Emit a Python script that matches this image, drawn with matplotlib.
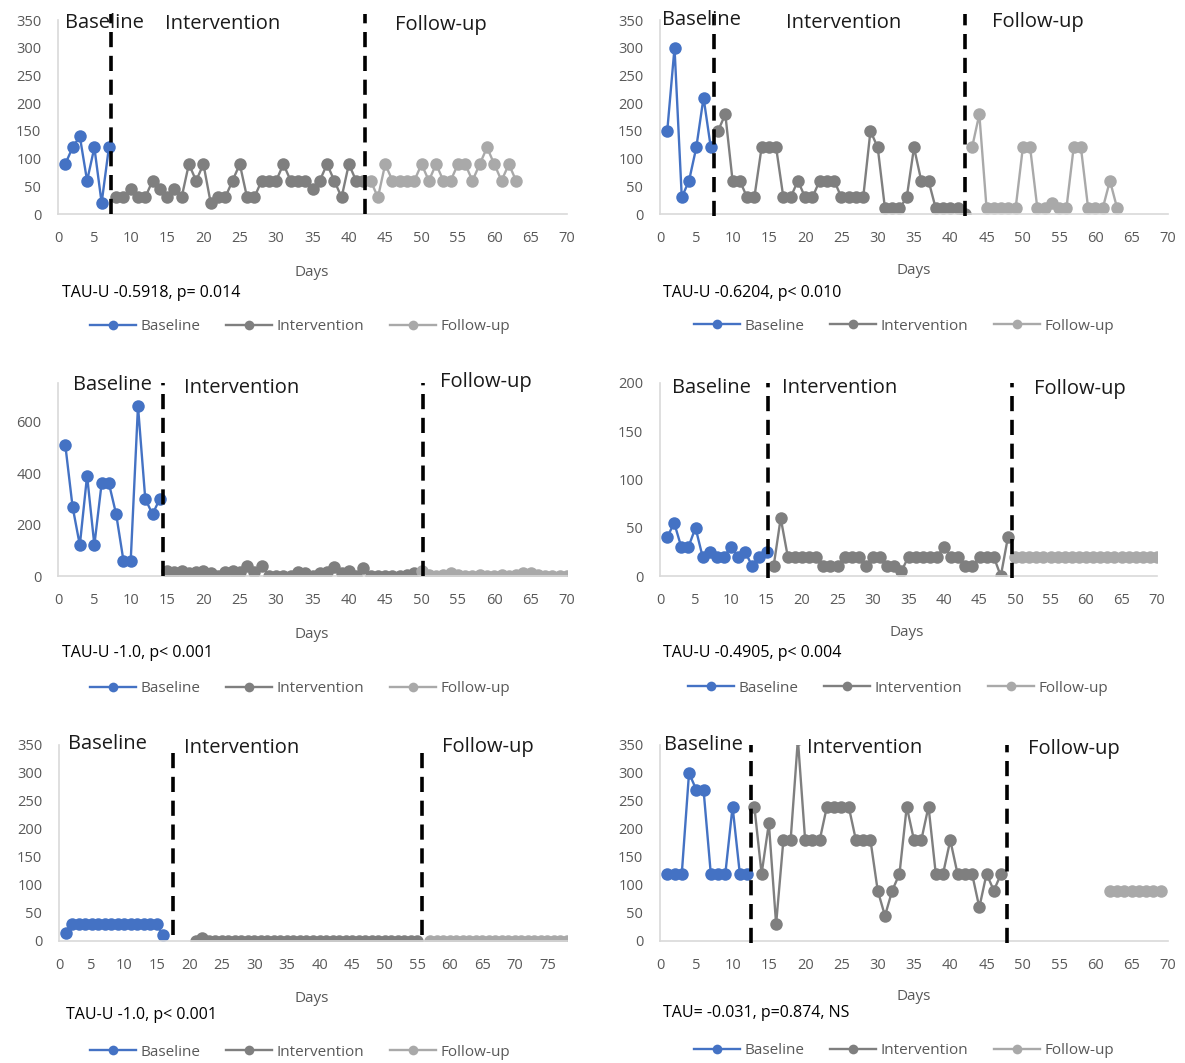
import numpy as np
import matplotlib.pyplot as plt
from matplotlib.lines import Line2D

plt.rcParams['font.family'] = ['Open Sans', 'DejaVu Sans']

W, H = 1185, 1063

# ---- colours ----
BLUE = '#4472C4'
DARK = '#7F7F7F'
LIGHT = '#A9A9A9'
TICK = '#595959'

# ---- panel 1 ----
p1_baseline = [90, 120, 140, 60, 120, 20, 120]
p1_intervention = [30, 30, 45, 30, 30, 60, 45, 30, 45, 30, 90, 60, 90, 20, 30,
                   30, 60, 90, 30, 30, 60, 60, 60, 90, 60, 60, 60, 45, 60, 90,
                   60, 30, 90, 60, 60]
p1_followup = [60, 30, 90, 60, 60, 60, 60, 90, 60, 90, 60, 60, 90, 90, 60, 90,
               120, 90, 60, 90, 60]
p1_starts = [1, 8, 43]
p1_phase_lines = [7.3, 42.2]
p1_tau = 'TAU-U -0.5918, p= 0.014'

# ---- panel 2 ----
p2_baseline = [150, 300, 30, 60, 120, 210, 120]
p2_intervention = [150, 180, 60, 60, 30, 30, 120, 120, 120, 30, 30, 60, 30, 30,
                   60, 60, 60, 30, 30, 30, 30, 150, 120, 10, 10, 10, 30, 120,
                   60, 60, 10, 10, 10, 10, 0]
p2_followup = [120, 180, 10, 10, 10, 10, 10, 120, 120, 10, 10, 20, 10, 10, 120,
               120, 10, 10, 10, 60, 10]
p2_starts = [1, 8, 43]
p2_phase_lines = [7.4, 42.0]
p2_tau = 'TAU-U -0.6204, p< 0.010'

# ---- panel 3 ----
p3_baseline = [510, 270, 120, 390, 120, 360, 360, 240, 60, 60, 660, 300, 240, 300]
p3_intervention = [20, 15, 20, 10, 15, 20, 10, 0, 15, 20, 15, 40, 15, 40, 0, 0,
                   0, 0, 15, 10, 0, 10, 15, 35, 10, 20, 0, 30, 0, 0, 0, 0, 0, 5, 10]
p3_followup = [20, 5, 0, 5, 10, 5, 0, 0, 5, 0, 0, 5, 0, 5, 10, 10, 5, 0, 0, 0, 0]
p3_starts = [1, 15, 50]
p3_phase_lines = [14.4, 50.2]
p3_tau = 'TAU-U -1.0, p< 0.001'

# ---- panel 4 ----
p4_baseline = [40, 55, 30, 30, 50, 20, 25, 20, 20, 30, 20, 25, 10, 20, 25]
p4_intervention = [10, 60, 20, 20, 20, 20, 20, 10, 10, 10, 20, 20, 20, 10, 20,
                   20, 10, 10, 5, 20, 20, 20, 20, 20, 30, 20, 20, 10, 10, 20,
                   20, 20, 0, 40]
p4_followup = [20] * 21
p4_starts = [1, 16, 50]
p4_phase_lines = [15.2, 49.6]
p4_tau = 'TAU-U -0.4905, p< 0.004'

# ---- panel 5 ----
p5_baseline = [15] + [30] * 14 + [10]
p5_intervention = [0, 5] + [0] * 33
p5_followup = [0] * 22
p5_starts = [1, 21, 57]
p5_phase_lines = [17.5, 55.8]
p5_tau = 'TAU-U -1.0, p< 0.001'

# ---- panel 6 ----
p6_baseline = [120, 120, 120, 300, 270, 270, 120, 120, 120, 240, 120, 120]
p6_intervention = [240, 120, 210, 30, 180, 180, 360, 180, 180, 180, 240, 240,
                   240, 240, 180, 180, 180, 90, 45, 90, 120, 240, 180, 180, 240,
                   120, 120, 180, 120, 120, 120, 60, 120, 90, 120]
p6_followup = [90] * 8
p6_starts = [1, 13, 62]
p6_phase_lines = [12.5, 47.8]
p6_tau = 'TAU= -0.031, p=0.874, NS'

phase_names = ['Baseline', 'Intervention', 'Follow-up']

fig = plt.figure(figsize=(W / 100, H / 100), dpi=100)


def fx(x):
    return x / W


def fy(y):
    return 1 - y / H


def draw_panel(box, series, starts, phase_lines, xlim, xticks, ylim, yticks,
               label_px, days_px, tau, tau_px, legend_px, dash_span=(0, 1.0)):
    l, t, r, b = box
    ax = fig.add_axes([fx(l), fy(b), (r - l) / W, (b - t) / H])
    colors = [BLUE, DARK, LIGHT]
    for vals, s, c in zip(series, starts, colors):
        days = np.arange(s, s + len(vals))
        ax.plot(days, vals, color=c, lw=1.7, marker='o', ms=9,
                markeredgewidth=0, zorder=2)
    for xv in phase_lines:
        ax.axvline(xv, ymin=dash_span[0], ymax=dash_span[1], color='black',
                   lw=2.6, dashes=(4.2, 2.4), zorder=4, clip_on=False)
    ax.set_xlim(*xlim)
    ax.set_ylim(*ylim)
    ax.set_xticks(xticks)
    ax.set_yticks(yticks)
    ax.tick_params(length=0, colors=TICK, labelsize=10.5)
    ax.tick_params(axis='y', pad=12)
    ax.tick_params(axis='x', pad=12)
    for side in ['top', 'right']:
        ax.spines[side].set_visible(False)
    for side in ['left', 'bottom']:
        ax.spines[side].set_color('#D9D9D9')
        ax.spines[side].set_linewidth(1.2)
    ax.patch.set_alpha(0)

    # phase names sit above each phase
    for name, (px, py) in zip(phase_names, label_px):
        fig.text(fx(px), fy(py), name, fontsize=14.5, color='#1a1a1a',
                 ha='left', va='center')
    fig.text(fx(days_px[0]), fy(days_px[1]), 'Days', fontsize=11,
             color=TICK, ha='center', va='center')
    fig.text(fx(tau_px[0]), fy(tau_px[1]), tau, fontsize=11.5, color='black',
             ha='left', va='center')

    handles = [Line2D([], [], color=c, lw=1.7, marker='o', ms=7,
                      markeredgewidth=0) for c in colors]
    fig.legend(handles, phase_names, loc='center', ncol=3, frameon=False,
               bbox_to_anchor=(fx(legend_px[0]), fy(legend_px[1])),
               fontsize=11, labelcolor=TICK, handlelength=3.0,
               handletextpad=0.3, columnspacing=1.7)
    return ax


ticks70 = np.arange(0, 75, 5)
ticks350 = np.arange(0, 400, 50)

draw_panel((58, 20, 567, 214), [p1_baseline, p1_intervention, p1_followup],
           p1_starts, p1_phase_lines, (0, 70), ticks70, (0, 350), ticks350,
           [(65, 23), (165, 24), (395, 25)], (312, 272), p1_tau, (62, 293),
           (300, 327), dash_span=(0, 1.03))

draw_panel((660, 20, 1168, 214), [p2_baseline, p2_intervention, p2_followup],
           p2_starts, p2_phase_lines, (0, 70), ticks70, (0, 350), ticks350,
           [(662, 20), (786, 23), (992, 22)], (914, 271), p2_tau, (663, 293),
           (904, 326), dash_span=(-0.01, 1.03))

draw_panel((58, 383, 567, 576), [p3_baseline, p3_intervention, p3_followup],
           p3_starts, p3_phase_lines, (0, 70), ticks70, (0, 750),
           [0, 200, 400, 600],
           [(73, 385), (184, 388), (440, 382)], (312, 634), p3_tau, (62, 653),
           (300, 689), dash_span=(0, 1.0))

draw_panel((660, 383, 1157, 576), [p4_baseline, p4_intervention, p4_followup],
           p4_starts, p4_phase_lines, (0, 70), ticks70, (0, 200),
           np.arange(0, 250, 50),
           [(672, 388), (782, 388), (1034, 389)], (907, 633), p4_tau,
           (663, 653), (898, 688), dash_span=(-0.01, 1.0))

draw_panel((59, 745, 567, 941), [p5_baseline, p5_intervention, p5_followup],
           p5_starts, p5_phase_lines, (0, 78), np.arange(0, 80, 5), (0, 350),
           ticks350,
           [(68, 744), (184, 748), (442, 747)], (312, 998), p5_tau,
           (66, 1015), (300, 1052), dash_span=(0.03, 0.97))

draw_panel((660, 745, 1168, 941), [p6_baseline, p6_intervention, p6_followup],
           p6_starts, p6_phase_lines, (0, 70), ticks70, (0, 350), ticks350,
           [(664, 745), (807, 748), (1028, 749)], (914, 997), p6_tau,
           (663, 1013), (904, 1051), dash_span=(-0.01, 1.0))

fig.savefig('out.png', dpi=100)
